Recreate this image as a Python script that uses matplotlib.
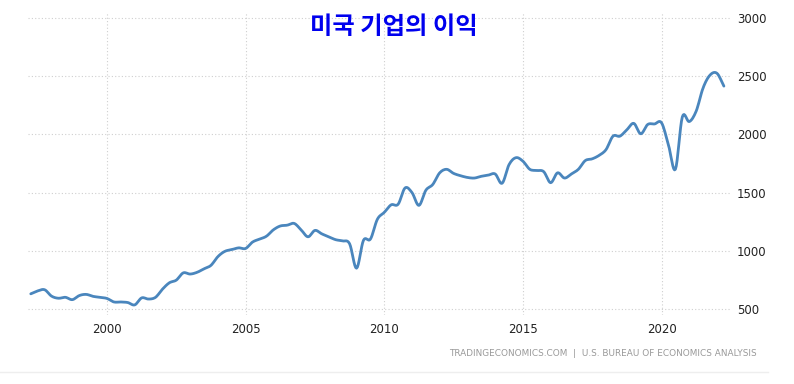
#!/usr/bin/env python3

import numpy as np
import matplotlib.pyplot as plt
from matplotlib.lines import Line2D

plt.rcParams['font.family']=['DejaVu Sans']

# quarterly, 1997Q1 .. 2022Q1 (billions USD)
startYear=1997.25
profits=[630,655,665,610,592,600,580,615,625,608,
         600,590,560,560,555,535,595,585,600,670,
         725,748,810,800,815,845,875,950,995,1010,
         1025,1020,1075,1100,1125,1180,1213,1220,1235,1180,
         1120,1175,1145,1120,1095,1085,1060,850,1090,1100,
         1270,1330,1395,1400,1540,1500,1390,1520,1570,1670,
         1700,1665,1645,1630,1625,1640,1650,1660,1580,1740,
         1800,1770,1700,1690,1680,1585,1670,1625,1660,1700,
         1775,1790,1820,1870,1985,1985,2040,2095,2005,2085,
         2090,2100,1910,1700,2150,2110,2200,2400,2510,2525,
         2415]
yTicks=[500,1000,1500,2000,2500,3000]
xTicks=[2000,2005,2010,2015,2020]
title='미국 기업의 이익'
source='TRADINGECONOMICS.COM  |  U.S. BUREAU OF ECONOMICS ANALYSIS'

def smoothLine(xs,ys,steps=8):
  # catmull-rom through the points, only for drawing a soft curve
  xs=np.asarray(xs,float); ys=np.asarray(ys,float)
  px=np.concatenate([[2*xs[0]-xs[1]],xs,[2*xs[-1]-xs[-2]]])
  py=np.concatenate([[2*ys[0]-ys[1]],ys,[2*ys[-1]-ys[-2]]])
  t=np.linspace(0,1,steps,endpoint=False)[:,None]
  outX=[];outY=[]
  for P in (px,py):
    p0,p1,p2,p3=P[:-3],P[1:-2],P[2:-1],P[3:]
    seg=0.5*((2*p1)+(-p0+p2)*t+(2*p0-5*p1+4*p2-p3)*t**2+(-p0+3*p1-3*p2+p3)*t**3)
    (outX if P is px else outY).append(np.append(seg.T.ravel(),P[-2]))
  return outX[0],outY[0]

dates=startYear+0.25*np.arange(len(profits))
sx,sy=smoothLine(dates,profits)

fig=plt.figure(figsize=(7.94,3.84),dpi=100)
ax=fig.add_axes([28/794,1-315/384,702/794,303/384])
ax.plot(sx,sy,color='#4a86bd',lw=2,solid_capstyle='round',solid_joinstyle='round',zorder=3)

ax.set_xlim(1997.15,2022.47)
ax.set_ylim(448,3052)
ax.set_xticks(xTicks)
ax.set_yticks(yTicks)
ax.yaxis.tick_right()
ax.tick_params(length=0,labelsize=8.5,colors='#222222',pad=6)
ax.tick_params(axis='y',pad=5)
for s in ax.spines.values():
  s.set_visible(False)
ax.grid(True,color='#cfcfcf',lw=0.8,linestyle=(0,(1,2)))

fig.text(394/794,1-27/384,title,ha='center',va='center',fontsize=17.5,
         fontweight='bold',color='#0000ee',family=['Noto Sans CJK KR','DejaVu Sans'])
fig.text(757/794,1-353/384,source,ha='right',va='center',fontsize=6.4,color='#999999')
fig.add_artist(Line2D([0,768/794],[1-372/384,1-372/384],transform=fig.transFigure,color='#eeeeee',lw=1))

fig.savefig('out.png',dpi=100)
